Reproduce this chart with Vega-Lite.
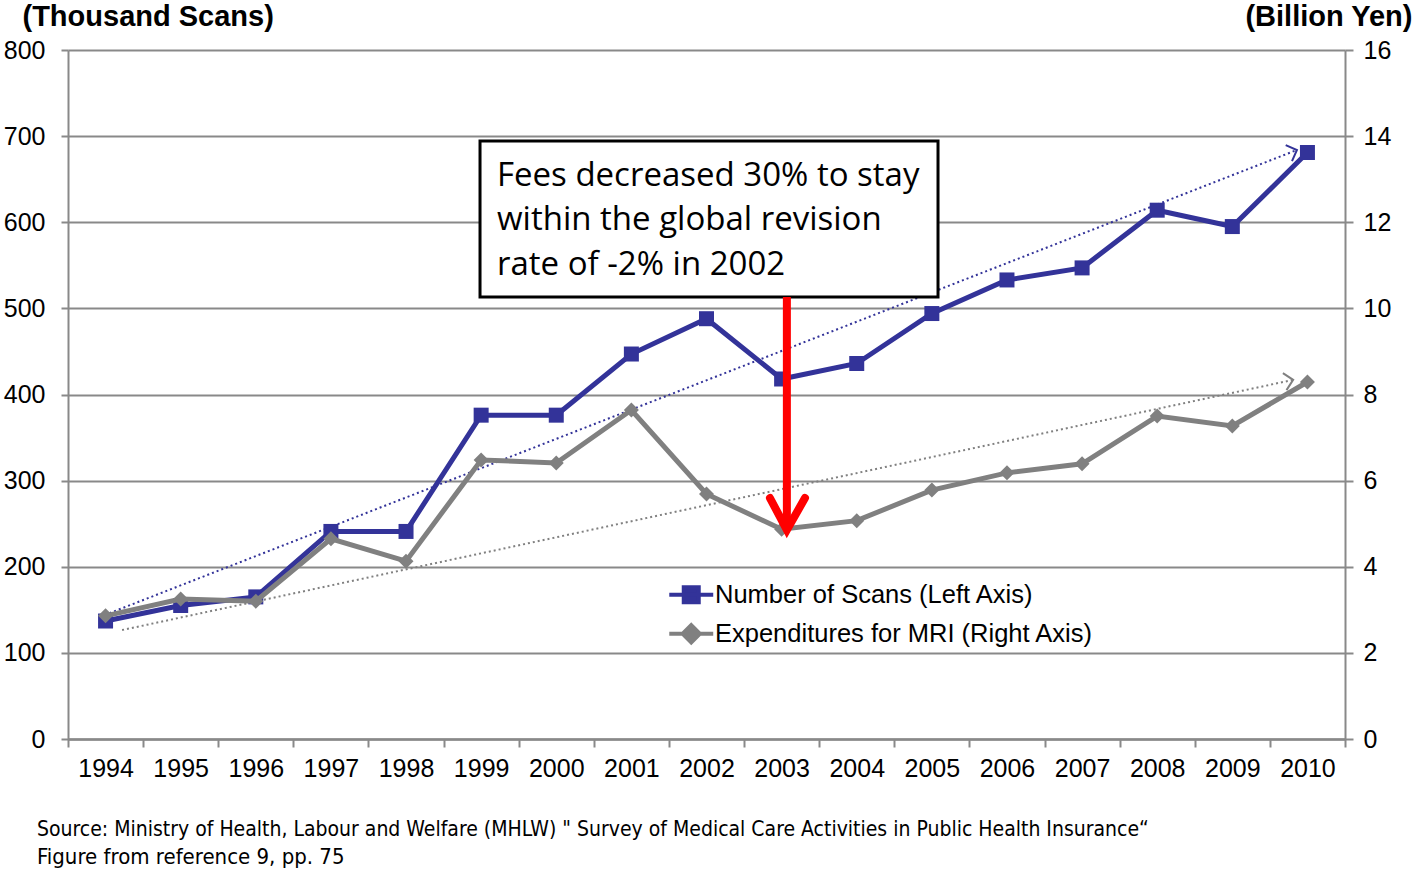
{
  "$schema": "https://vega.github.io/schema/vega-lite/v6.json",
  "width": 1277,
  "height": 689,
  "autosize": {"type": "none"},
  "padding": {"left": 68, "top": 50, "right": 73, "bottom": 136},
  "background": "white",
  "config": {
    "font": "Liberation Sans",
    "view": {"stroke": null},
    "axis": {
      "domainColor": "#898989", "domainWidth": 2,
      "tickColor": "#898989", "tickWidth": 2,
      "labelColor": "black", "labelFontSize": 25, "labelFont": "Liberation Sans",
      "gridColor": "#898989", "gridWidth": 2
    }
  },
  "datasets": {
    "main": [
      {"year": 1994, "scans": 137, "mri": 2.86},
      {"year": 1995, "scans": 155, "mri": 3.25},
      {"year": 1996, "scans": 165, "mri": 3.2},
      {"year": 1997, "scans": 241, "mri": 4.65},
      {"year": 1998, "scans": 241, "mri": 4.13},
      {"year": 1999, "scans": 376, "mri": 6.48},
      {"year": 2000, "scans": 376, "mri": 6.41},
      {"year": 2001, "scans": 447, "mri": 7.64},
      {"year": 2002, "scans": 488, "mri": 5.69},
      {"year": 2003, "scans": 418, "mri": 4.87},
      {"year": 2004, "scans": 436, "mri": 5.07},
      {"year": 2005, "scans": 494, "mri": 5.78},
      {"year": 2006, "scans": 533, "mri": 6.18},
      {"year": 2007, "scans": 547, "mri": 6.39},
      {"year": 2008, "scans": 614, "mri": 7.5},
      {"year": 2009, "scans": 595, "mri": 7.27},
      {"year": 2010, "scans": 681, "mri": 8.29}
    ],
    "trendScans": [
      {"x": 1993.99, "y": 144},
      {"x": 2009.86, "y": 683.9}
    ],
    "trendMri": [
      {"x": 1994.22, "y": 2.53},
      {"x": 2009.81, "y": 8.34}
    ],
    "box": [
      {"x0": 1998.985, "x1": 2005.082, "y0": 13.886, "y1": 10.264, "tx": 1999.211, "ty": 12.842,
       "label": "Fees decreased 30% to stay\nwithin the global revision\nrate of -2% in 2002"}
    ],
    "arrowShaft": [{"x": 2003.07, "y0": 10.264, "y1": 4.95}],
    "arrowHead": [
      {"x": 2002.845, "y": 5.596, "o": 1},
      {"x": 2003.07, "y": 4.854, "o": 2},
      {"x": 2003.311, "y": 5.596, "o": 3}
    ]
  },
  "title": {
    "text": "Source: Ministry of Health, Labour and Welfare  (MHLW) \" Survey of Medical Care Activities in Public Health Insurance“",
    "subtitle": "Figure from reference 9, pp. 75",
    "orient": "bottom",
    "anchor": "start",
    "frame": "group",
    "dx": -31,
    "offset": 38,
    "font": "Liberation Sans Narrow, DejaVu Sans Condensed, sans-serif",
    "fontSize": 21,
    "fontWeight": "normal",
    "color": "black",
    "subtitleFont": "Liberation Sans Narrow, DejaVu Sans Condensed, sans-serif",
    "subtitleFontSize": 22,
    "subtitleColor": "black",
    "subtitlePadding": 7
  },
  "layer": [
    {
      "layer": [
        {
          "data": {"name": "main"},
          "mark": {"type": "line", "strokeWidth": 5},
          "encoding": {
            "x": {
              "field": "year", "type": "quantitative",
              "scale": {"domain": [1993.5, 2010.5], "nice": false, "zero": false},
              "axis": {
                "orient": "bottom",
                "title": null,
                "values": [1994,1995,1996,1997,1998,1999,2000,2001,2002,2003,2004,2005,2006,2007,2008,2009,2010],
                "format": "d",
                "ticks": false,
                "labelPadding": 17,
                "labelOverlap": false,
                "labelFlush": false,
                "labelBound": false,
                "grid": false
              }
            },
            "y": {
              "field": "scans", "type": "quantitative",
              "scale": {"domain": [0, 800], "nice": false},
              "axis": {
                "values": [0,100,200,300,400,500,600,700,800],
                "grid": true,
                "tickSize": 7,
                "labelPadding": 16,
                "title": "(Thousand Scans)",
                "titleAngle": 0,
                "titleAlign": "left",
                "titleBaseline": "alphabetic",
                "titleX": -46,
                "titleY": -25,
                "titleFontSize": 29,
                "titleFontWeight": "bold",
                "titleFont": "Liberation Sans",
                "titleColor": "black"
              }
            },
            "color": {
              "datum": "Number of Scans (Left Axis)",
              "scale": {"domain": ["Number of Scans (Left Axis)", "Expenditures for MRI (Right Axis)"], "range": ["#333399", "#808080"]},
              "legend": {
                "orient": "none",
                "legendX": 610.5,
                "legendY": 532,
                "title": null,
                "padding": 0,
                "labelFontSize": 25.5,
                "labelFont": "Liberation Sans",
                "labelColor": "black",
                "labelLimit": 0,
                "symbolSize": 225,
                "rowPadding": 6,
                "labelOffset": 11,
                "encode": {
                  "symbols": {
                    "update": {
                      "shape": {"signal": "datum.value === 'Number of Scans (Left Axis)' ? 'M-2.93,0H2.93M-1,-1H1V1H-1Z' : 'M-2.93,0H2.93M0,-1.15L1.15,0L0,1.15L-1.15,0Z'"},
                      "fill": {"scale": "color", "field": "value"},
                      "stroke": {"scale": "color", "field": "value"},
                      "strokeWidth": {"value": 4},
                      "opacity": {"value": 1},
                      "fillOpacity": {"value": 1},
                      "strokeOpacity": {"value": 1}
                    }
                  }
                }
              }
            }
          }
        },
        {
          "data": {"name": "trendScans"},
          "mark": {"type": "line", "color": "#333399", "strokeWidth": 2, "strokeDash": [2, 3]},
          "encoding": {
            "x": {"field": "x", "type": "quantitative"},
            "y": {"field": "y", "type": "quantitative"}
          }
        },
        {
          "data": {"name": "trendScans"},
          "transform": [{"filter": "datum.x > 2000"}],
          "mark": {"type": "point", "shape": "M-1,-1L0,0L-1,1", "filled": false, "color": "#333399", "strokeWidth": 2, "size": 300, "angle": 338.7, "opacity": 1},
          "encoding": {
            "x": {"field": "x", "type": "quantitative"},
            "y": {"field": "y", "type": "quantitative"}
          }
        },
        {
          "data": {"name": "main"},
          "mark": {"type": "point", "shape": "square", "filled": true, "color": "#333399", "size": 225, "opacity": 1},
          "encoding": {
            "x": {"field": "year", "type": "quantitative"},
            "y": {"field": "scans", "type": "quantitative"}
          }
        }
      ]
    },
    {
      "layer": [
        {
          "data": {"name": "trendMri"},
          "mark": {"type": "line", "color": "#808080", "strokeWidth": 2, "strokeDash": [2, 3]},
          "encoding": {
            "x": {"field": "x", "type": "quantitative"},
            "y": {"field": "y", "type": "quantitative"}
          }
        },
        {
          "data": {"name": "trendMri"},
          "transform": [{"filter": "datum.x > 2000"}],
          "mark": {"type": "point", "shape": "M-1,-1L0,0L-1,1", "filled": false, "color": "#808080", "strokeWidth": 2, "size": 300, "angle": 348, "opacity": 1},
          "encoding": {
            "x": {"field": "x", "type": "quantitative"},
            "y": {"field": "y", "type": "quantitative"}
          }
        },
        {
          "data": {"name": "main"},
          "mark": {"type": "line", "strokeWidth": 5},
          "encoding": {
            "x": {
              "field": "year", "type": "quantitative",
              "axis": {
                "orient": "bottom",
                "title": null,
                "values": [1993.5,1994.5,1995.5,1996.5,1997.5,1998.5,1999.5,2000.5,2001.5,2002.5,2003.5,2004.5,2005.5,2006.5,2007.5,2008.5,2009.5,2010.5],
                "labels": false,
                "ticks": true,
                "tickSize": 8,
                "grid": false
              }
            },
            "y": {
              "field": "mri", "type": "quantitative",
              "scale": {"domain": [0, 16], "nice": false},
              "axis": {
                "orient": "right",
                "values": [0,2,4,6,8,10,12,14,16],
                "grid": false,
                "tickSize": 8,
                "labelPadding": 10,
                "title": "(Billion Yen)",
                "titleAngle": 0,
                "titleAlign": "right",
                "titleBaseline": "alphabetic",
                "titleX": 67,
                "titleY": -25,
                "titleFontSize": 29,
                "titleFontWeight": "bold",
                "titleFont": "Liberation Sans",
                "titleColor": "black"
              }
            },
            "color": {"datum": "Expenditures for MRI (Right Axis)"}
          }
        },
        {
          "data": {"name": "main"},
          "mark": {"type": "point", "shape": "diamond", "filled": true, "color": "#808080", "size": 225, "opacity": 1},
          "encoding": {
            "x": {"field": "year", "type": "quantitative"},
            "y": {"field": "mri", "type": "quantitative"}
          }
        },
        {
          "data": {"name": "box"},
          "mark": {"type": "rect", "fill": "white", "stroke": "black", "strokeWidth": 3},
          "encoding": {
            "x": {"field": "x0", "type": "quantitative"},
            "x2": {"field": "x1"},
            "y": {"field": "y0", "type": "quantitative"},
            "y2": {"field": "y1"}
          }
        },
        {
          "data": {"name": "box"},
          "mark": {"type": "text", "align": "left", "baseline": "alphabetic", "lineBreak": "\n", "lineHeight": 44.5, "font": "Open Sans", "fontSize": 33, "color": "black"},
          "encoding": {
            "x": {"field": "tx", "type": "quantitative"},
            "y": {"field": "ty", "type": "quantitative"},
            "text": {"field": "label"}
          }
        },
        {
          "data": {"name": "arrowShaft"},
          "mark": {"type": "rule", "color": "#FF0000", "strokeWidth": 8},
          "encoding": {
            "x": {"field": "x", "type": "quantitative"},
            "y": {"field": "y0", "type": "quantitative"},
            "y2": {"field": "y1"}
          }
        },
        {
          "data": {"name": "arrowHead"},
          "mark": {"type": "line", "color": "#FF0000", "strokeWidth": 8, "strokeCap": "round", "strokeJoin": "miter"},
          "encoding": {
            "x": {"field": "x", "type": "quantitative"},
            "y": {"field": "y", "type": "quantitative"},
            "order": {"field": "o"}
          }
        }
      ]
    }
  ],
  "resolve": {"scale": {"y": "independent"}, "axis": {"x": "independent"}}
}
